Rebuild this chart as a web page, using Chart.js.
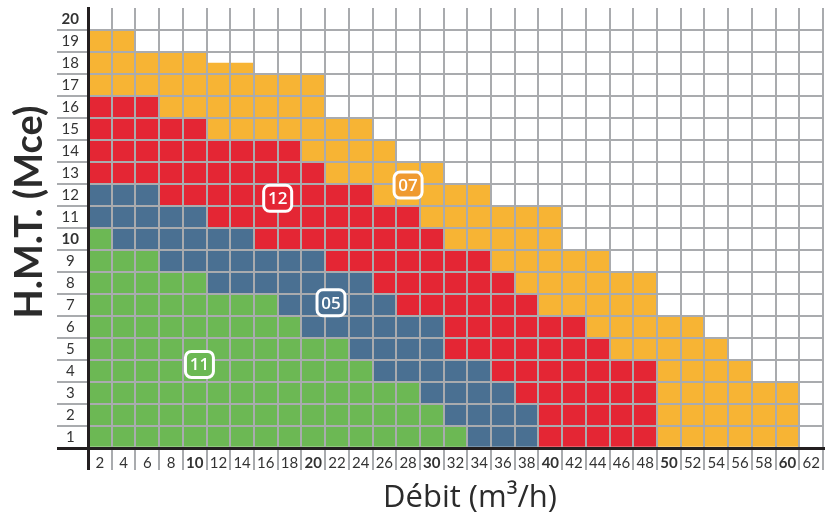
<!DOCTYPE html>
<html>
<head>
<meta charset="utf-8">
<script src="https://cdn.jsdelivr.net/npm/chart.js@4"></script>
<style>
  html, body { margin: 0; padding: 0; background: #fff; }
  #wrap { width: 833px; height: 520px; position: relative; }
</style>
</head>
<body>
<div id="wrap"><canvas id="abaque"></canvas></div>
<script>
// débit (m3/h) columns, H.M.T. rows
const debit = ['2','4','6','8','10','12','14','16','18','20','22','24','26','28','30','32',
  '34','36','38','40','42','44','46','48','50','52','54','56','58','60','62'];
const hmt = ['1','2','3','4','5','6','7','8','9','10','11','12','13','14','15','16','17','18','19','20'];

// upper limit (Mce) of each pump zone, per column
const greenTop  = [10,9,9,8,8,7,7,7,6,5,5,4,3,3,2,1,0,0,0,0,0,0,0,0,0,0,0,0,0,0,0];
const blueTop   = [12,12,12,11,11,10,10,9,9,9,8,8,7,6,6,4,4,3,2,0,0,0,0,0,0,0,0,0,0,0,0];
const redTop    = [16,16,16,15,15,14,14,14,14,13,12,12,11,11,10,9,9,8,7,6,6,5,4,4,0,0,0,0,0,0,0];
const orangeTop = [19,19,18,18,18,17.5,17.5,17,17,17,15,15,14,13,13,12,12,11,11,11,9,9,8,8,6,6,5,4,3,3,0];

// zone badges
const badgeText  = ['11', '05', '12', '07'];
const badgeDebit = [10.4, 21.5, 17, 28];
const badgeHmt   = [3.8, 6.6, 11.35, 11.95];

const GREEN = '#6cb854', BLUE = '#4a7092', RED = '#e42634', ORANGE = '#f7b434';
const badgeColor = [GREEN, BLUE, RED, '#ef9a30'];
const GRID = '#a9abae', DARK = '#231f20', TXT = '#333333';

function band(low, high) {
  return high.map(function (v, i) {
    var b = low ? low[i] : 0;
    return v > b ? [b, v] : null;
  });
}

function roundRect(ctx, x, y, w, h, r) {
  ctx.beginPath();
  ctx.moveTo(x + r, y);
  ctx.arcTo(x + w, y, x + w, y + h, r);
  ctx.arcTo(x + w, y + h, x, y + h, r);
  ctx.arcTo(x, y + h, x, y, r);
  ctx.arcTo(x, y, x + w, y, r);
  ctx.closePath();
}

const overlay = {
  id: 'overlay',
  afterDraw: function (chart) {
    const ctx = chart.ctx;
    const xs = chart.scales.x, ys = chart.scales.y;
    ctx.save();
    // badges
    for (let i = 0; i < badgeText.length; i++) {
      const px = xs.getPixelForValue(badgeDebit[i] / 2 - 1);
      const py = ys.getPixelForValue(badgeHmt[i]);
      roundRect(ctx, px - 14, py - 13, 28, 26, 6);
      ctx.fillStyle = badgeColor[i];
      ctx.fill();
      ctx.lineWidth = 3;
      ctx.strokeStyle = '#ffffff';
      ctx.stroke();
      ctx.fillStyle = '#ffffff';
      ctx.font = '600 17px "Open Sans"';
      ctx.textAlign = 'center';
      ctx.textBaseline = 'middle';
      ctx.fillText(badgeText[i], px, py + 1);
    }
    // axis titles
    ctx.fillStyle = '#2b2b2b';
    ctx.font = '31px "Open Sans"';
    ctx.textAlign = 'center';
    ctx.textBaseline = 'middle';
    ctx.fillText('Débit (m³/h)', 470, 498);
    ctx.translate(30, 212);
    ctx.rotate(-Math.PI / 2);
    ctx.font = 'bold 38px Lato';
    ctx.fillText('H.M.T. (Mce)', 0, 0);
    ctx.restore();
  }
};

function tickFont(label) {
  return { family: 'Lato', size: 15, weight: (+label % 10 === 0) ? 'bold' : 'normal' };
}

function tickVal(c) {
  return c && c.tick ? c.tick.value : null;
}

new Chart(document.getElementById('abaque'), {
  type: 'bar',
  data: {
    labels: debit,
    datasets: [
      { label: '11', data: band(null, greenTop), backgroundColor: GREEN },
      { label: '05', data: band(greenTop, blueTop), backgroundColor: BLUE },
      { label: '12', data: band(blueTop, redTop), backgroundColor: RED },
      { label: '07', data: band(redTop, orangeTop), backgroundColor: ORANGE }
    ]
  },
  options: {
    responsive: true,
    maintainAspectRatio: false,
    animation: false,
    events: [],
    layout: { padding: { top: 8, right: 10, left: 0, bottom: 0 } },
    datasets: {
      bar: { grouped: false, barPercentage: 1, categoryPercentage: 1, borderWidth: 0 }
    },
    plugins: { legend: { display: false }, tooltip: { enabled: false } },
    scales: {
      x: {
        offset: true,
        afterFit: function (s) { s.height = 72; },
        grid: {
          offset: true,
          z: 1,
          tickLength: 22,
          color: function (c) {
            if (c.index === 0) return DARK;
            if (c.index >= debit.length) return 'rgba(0,0,0,0)';
            return GRID;
          },
          lineWidth: function (c) { return c.index === 0 ? 3 : 2; }
        },
        border: { color: DARK, width: 3, z: 2 },
        ticks: {
          autoSkip: false,
          maxRotation: 0,
          padding: -16,
          color: TXT,
          font: function (c) { return tickFont(debit[c.index]); }
        }
      },
      y: {
        min: 0,
        max: 20,
        afterFit: function (s) { s.width = 88; },
        grid: {
          z: 1,
          tickLength: 31,
          color: function (c) {
            const v = tickVal(c);
            if (v === 0) return DARK;
            if (v === null || v % 1 !== 0 || v >= 20) return 'rgba(0,0,0,0)';
            return GRID;
          },
          lineWidth: function (c) { return tickVal(c) === 0 ? 3 : 2; }
        },
        border: { color: DARK, width: 3, z: 2 },
        ticks: {
          stepSize: 0.5,
          autoSkip: false,
          padding: -22,
          crossAlign: 'center',
          color: TXT,
          callback: function (v) { return v % 1 !== 0 ? hmt[Math.floor(v)] : ''; },
          font: function (c) {
            const v = tickVal(c);
            return tickFont(v !== null && v % 1 !== 0 ? hmt[Math.floor(v)] : '1');
          }
        }
      }
    }
  },
  plugins: [overlay]
});
</script>
</body>
</html>
